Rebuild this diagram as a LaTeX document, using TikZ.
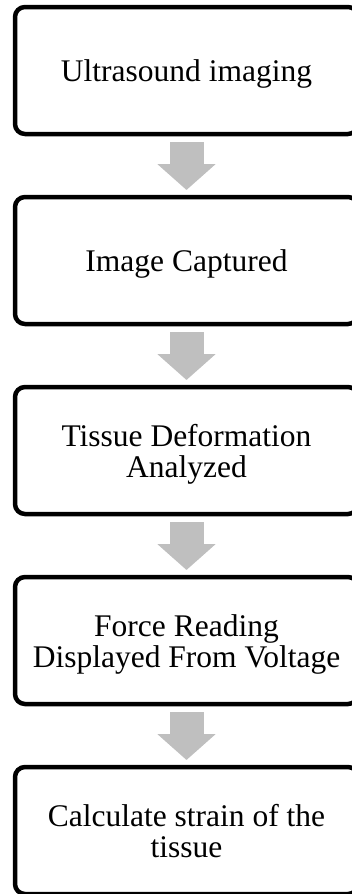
\documentclass[tikz,border=0pt]{standalone}
\usepackage{fontspec}
\setmainfont{Liberation Serif}
\usepackage{tikz}
\usetikzlibrary{positioning,arrows.meta}
\definecolor{arrowgray}{RGB}{191,191,191}

\begin{document}
\begin{tikzpicture}[x=1pt,y=-1pt,
    stepbox/.style={draw,line width=4.5pt,rounded corners=10pt,outer sep=0pt,
        minimum width=343pt,minimum height=127pt,align=center,
        font=\fontsize{31.5}{31}\selectfont,text height=22pt,text depth=0pt},
    twoline/.style={text height=53pt},
    blockarrow/.style={line width=34pt,arrowgray,
        -{Triangle[length=26pt,width=57pt]},shorten <=8pt,shorten >=7pt}]
    \clip (0,0) rectangle (352,894);
    \node[stepbox] (S1) at (186.5,70.5) {Ultrasound imaging};
    \node[stepbox] (S2) at (186.5,260.5) {Image Captured};
    \node[stepbox,twoline] (S3) at (186.5,450.5) {Tissue Deformation\\Analyzed};
    \node[stepbox,twoline] (S4) at (186.5,640.5) {Force Reading\\Displayed From Voltage};
    \node[stepbox,twoline] (S5) at (186.5,830.5) {Calculate strain of the\\tissue};
    \draw[blockarrow] (S1) -- (S2);
    \draw[blockarrow] (S2) -- (S3);
    \draw[blockarrow] (S3) -- (S4);
    \draw[blockarrow] (S4) -- (S5);
\end{tikzpicture}
\end{document}
